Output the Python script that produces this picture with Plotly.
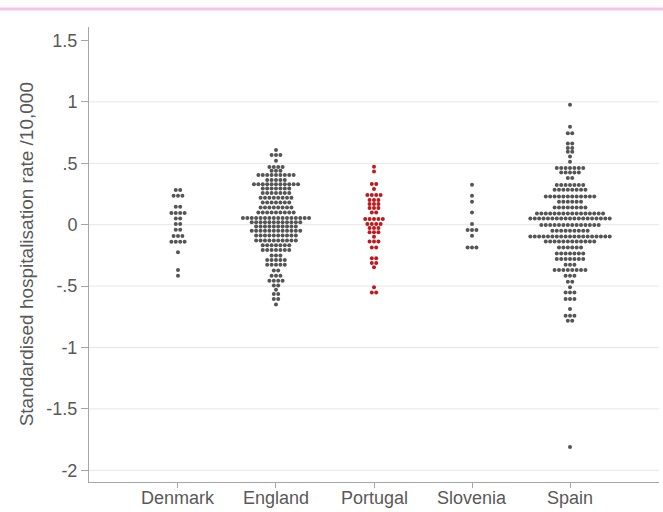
import plotly.graph_objects as go

countries = ["Denmark", "England", "Portugal", "Slovenia", "Spain"]

denmark_vals = [0.282, 0.236, 0.147, 0.095, 0.051, 0.005, -0.041, -0.092, -0.138, -0.225, -0.369, -0.415]
denmark_counts = [2, 3, 2, 4, 2, 2, 2, 3, 4, 1, 1, 1]

england_vals = [0.608, 0.567, 0.521, 0.47, 0.44, 0.405, 0.365, 0.33, 0.295, 0.258, 0.22, 0.18, 0.14, 0.10,
                0.054, 0.02, -0.015, -0.05, -0.088, -0.128, -0.168, -0.206, -0.25, -0.288, -0.326,
                -0.372, -0.415, -0.456, -0.494, -0.53, -0.565, -0.605, -0.65]
england_counts = [1, 3, 1, 4, 3, 9, 5, 11, 7, 7, 8, 7, 8, 9,
                  16, 12, 10, 12, 10, 10, 7, 7, 3, 5, 5,
                  2, 3, 4, 2, 1, 2, 2, 1]

portugal_vals = [0.472, 0.434, 0.331, 0.29, 0.242, 0.201, 0.168, 0.136, 0.1, 0.046, 0.005, -0.027,
                 -0.062, -0.098, -0.136, -0.185, -0.274, -0.312, -0.347, -0.51, -0.551]
portugal_counts = [1, 1, 2, 1, 4, 3, 3, 3, 2, 5, 4, 3,
                   3, 1, 3, 2, 2, 2, 1, 1, 2]

slovenia_vals = [0.326, 0.236, 0.187, 0.1, 0.005, -0.043, -0.09, -0.185]
slovenia_counts = [1, 1, 1, 1, 1, 3, 1, 3]

spain_vals = [0.977, 0.798, 0.744, 0.662, 0.624, 0.594, 0.556, 0.513, 0.461, 0.426, 0.38, 0.323, 0.285,
              0.23, 0.187, 0.141, 0.092, 0.051, -0.003, -0.049, -0.095, -0.136, -0.185, -0.234, -0.28,
              -0.326, -0.369, -0.415, -0.464, -0.51, -0.551, -0.605, -0.687, -0.741, -0.782, -1.81]
spain_counts = [1, 1, 2, 2, 2, 2, 1, 1, 7, 5, 2, 7, 8,
                12, 6, 8, 16, 19, 14, 9, 19, 12, 6, 7, 7,
                3, 8, 3, 2, 1, 3, 3, 1, 3, 2, 1]

ytick_vals = [1.5, 1, 0.5, 0, -0.5, -1, -1.5, -2]
ytick_text = ["1.5", "1", ".5", "0", "-.5", "-1", "-1.5", "-2"]
grid_vals = [1, 0.5, 0, -0.5, -1, -1.5, -2]

groups = [
    (denmark_vals, denmark_counts, "#555555"),
    (england_vals, england_counts, "#555555"),
    (portugal_vals, portugal_counts, "#c0181b"),
    (slovenia_vals, slovenia_counts, "#555555"),
    (spain_vals, spain_counts, "#555555"),
]

DOT_STEP = 0.045  # horizontal spacing between stacked dots (x-axis units)
FONT = "Liberation Sans, Arial"
TEXT_COLOR = "#595959"

fig = go.Figure()
for i, (vals, counts, color) in enumerate(groups):
    xs, ys = [], []
    for v, n in zip(vals, counts):
        for j in range(n):
            xs.append(i + (j - (n - 1) / 2) * DOT_STEP)
            ys.append(v)
    fig.add_trace(go.Scatter(
        x=xs, y=ys, mode="markers",
        marker=dict(size=4, color=color, line=dict(width=0)),
        hoverinfo="skip", showlegend=False, name=countries[i]))

for g in grid_vals:
    fig.add_shape(type="line", xref="paper", x0=0, x1=1, yref="y", y0=g, y1=g,
                  line=dict(color="#e6e6e6", width=1), layer="below")

# pink band at top
fig.add_shape(type="line", xref="paper", x0=-0.2, x1=1.1, yref="paper", y0=1.0396, y1=1.0396,
              line=dict(color="#f3c4e6", width=3))

fig.add_annotation(text="Standardised hospitalisation rate /10,000", textangle=-90,
                   xref="paper", yref="paper", x=-0.109, y=0.5, showarrow=False,
                   xanchor="center", yanchor="middle",
                   font=dict(family=FONT, size=19, color=TEXT_COLOR))

# category labels placed as annotations so they sit just under the ticks
for i, name in enumerate(countries):
    fig.add_annotation(text=name, xref="x", yref="paper", x=i, y=-0.036,
                       showarrow=False, xanchor="center", yanchor="middle",
                       font=dict(family=FONT, size=18, color=TEXT_COLOR))

fig.update_layout(
    width=663, height=512,
    margin=dict(l=89, r=4, t=27, b=30),
    paper_bgcolor="white", plot_bgcolor="white",
    font=dict(family=FONT, size=18, color=TEXT_COLOR),
    xaxis=dict(range=[-0.908, 4.908], tickvals=list(range(5)), ticktext=[""] * 5,
               showgrid=False, zeroline=False, showline=True, linecolor="#a6a6a6", linewidth=1,
               ticks="outside", ticklen=5, tickcolor="#a6a6a6"),
    yaxis=dict(range=[-2.095, 1.61], tickvals=ytick_vals, ticktext=ytick_text,
               showgrid=False, zeroline=False, showline=True, linecolor="#a6a6a6", linewidth=1,
               ticks="outside", ticklen=7, tickcolor="#a6a6a6", tickfont=dict(size=18)),
)

# remove the browser's default page margin so the 663x512 figure fills the window exactly
fig.write_html("out.html",
               config={"displayModeBar": False},
               post_script="document.body.style.margin='0';document.body.style.overflow='hidden';")
